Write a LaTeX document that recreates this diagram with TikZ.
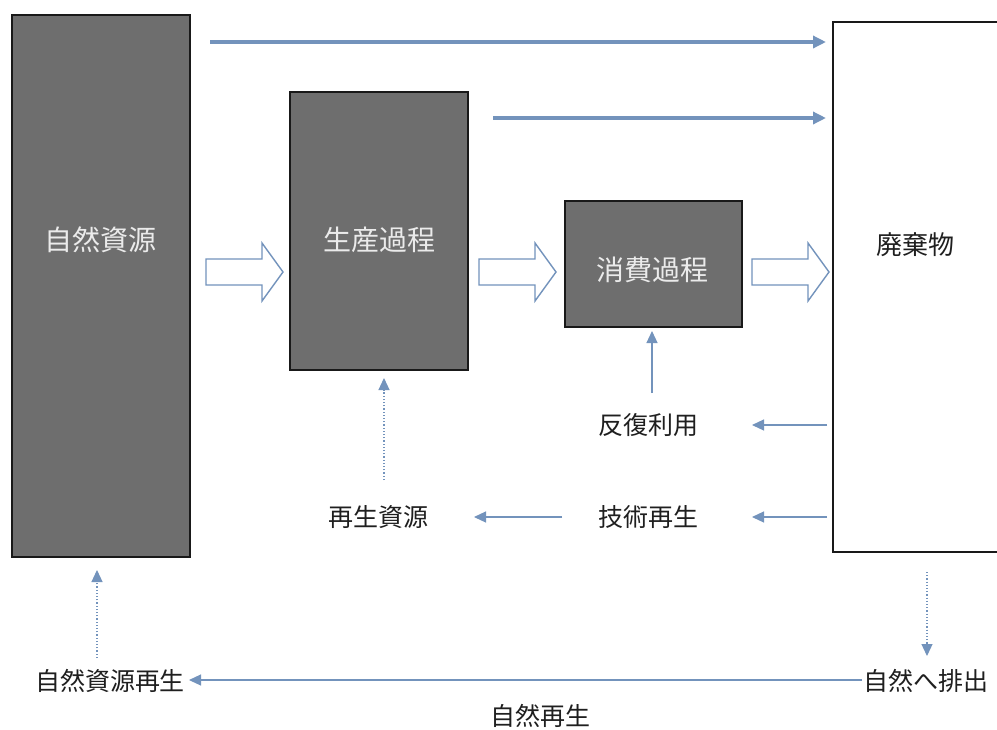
\documentclass[tikz,border=0pt]{standalone}
\usepackage{fontspec}
\setmainfont{Noto Sans CJK JP}
\usetikzlibrary{arrows.meta}
\definecolor{boxgray}{HTML}{6E6E6E}
\definecolor{arrblue}{HTML}{7393BC}
\tikzset{
  procbox/.style={draw=black!90, line width=1.3pt, fill=boxgray},
  boxtext/.style={text=white!92!black, font=\fontsize{28}{32}\selectfont},
  lbl/.style={text=black!88, font=\fontsize{25}{29}\selectfont, inner sep=0pt},
  thickarr/.style={draw=arrblue, line width=3.4pt, -{Triangle[length=13pt,width=12pt]}},
  thinarr/.style={draw=arrblue, line width=1.2pt, -{Triangle[length=12pt,width=11pt]}},
  dotarr/.style={draw=arrblue, line width=1.2pt, dotted, -{Triangle[length=12pt,width=11pt]}},
  hollow/.style={draw=arrblue, line width=1.4pt, fill=white, line join=miter}
}
% hollow block arrow: name, left x, center y
\newcommand{\hollowarrow}[3]{%
  \draw[hollow] (#2,#3-13) -- (#2+56,#3-13) -- (#2+56,#3-29) -- (#2+77,#3)
     -- (#2+56,#3+29) -- (#2+56,#3+13) -- (#2,#3+13) -- cycle;
  \coordinate (#1) at (#2+38,#3);}
\begin{document}
\begin{tikzpicture}[x=1pt,y=-1pt]
\useasboundingbox (0,0) rectangle (997,729);
\fill[white] (0,0) rectangle (997,729);
% boxes
\draw[procbox] (12,15) rectangle (190,557);
\node[boxtext] (nr) at (101,240) {自然資源};
\draw[procbox] (290,92) rectangle (468,370);
\node[boxtext] (pp) at (379,240) {生産過程};
\draw[procbox] (565,201) rectangle (742,327);
\node[boxtext] (cp) at (652,270) {消費過程};
\draw[draw=black!90, line width=1.3pt, fill=white] (833,22) rectangle (1005,552);
\node[text=black!88, font=\fontsize{26}{30}\selectfont] (wa) at (915,245) {廃棄物};
% top arrows
\coordinate (t1s) at (210,42); \coordinate (t1e) at (826,42);
\coordinate (t2s) at (493,118); \coordinate (t2e) at (826,118);
\draw[thickarr] (t1s) -- (t1e);
\draw[thickarr] (t2s) -- (t2e);
% hollow arrows
\hollowarrow{h1}{206}{272}
\hollowarrow{h2}{479}{272}
\hollowarrow{h3}{752}{272}
% labels
\node[lbl] (fk) at (648,425) {反復利用};
\node[lbl] (gs) at (648,517) {技術再生};
\node[lbl] (ss) at (378,517) {再生資源};
\node[lbl] (nrr) at (110,681) {自然資源再生};
\node[lbl] (nh) at (926,681) {自然へ排出};
\node[lbl] (ns) at (540,716) {自然再生};
% thin arrows
\coordinate (a1s) at (827,425); \coordinate (a1e) at (752,425);
\coordinate (a2s) at (827,517); \coordinate (a2e) at (752,517);
\coordinate (a3s) at (562,517); \coordinate (a3e) at (474,517);
\coordinate (a4s) at (862,680); \coordinate (a4e) at (189,680);
\draw[thinarr] (a1s) -- (a1e);
\draw[thinarr] (a2s) -- (a2e);
\draw[thinarr] (a3s) -- (a3e);
\draw[thinarr] (a4s) -- (a4e);
% vertical arrows
\coordinate (d1s) at (384,480); \coordinate (d1e) at (384,378);
\coordinate (d2s) at (652,393); \coordinate (d2e) at (652,331);
\coordinate (d3s) at (97,658); \coordinate (d3e) at (97,570);
\coordinate (d4s) at (927,572); \coordinate (d4e) at (927,656);
\draw[dotarr] (d1s) -- (d1e);
\draw[thinarr] (d2s) -- (d2e);
\draw[dotarr] (d3s) -- (d3e);
\draw[dotarr] (d4s) -- (d4e);
\end{tikzpicture}
\end{document}
